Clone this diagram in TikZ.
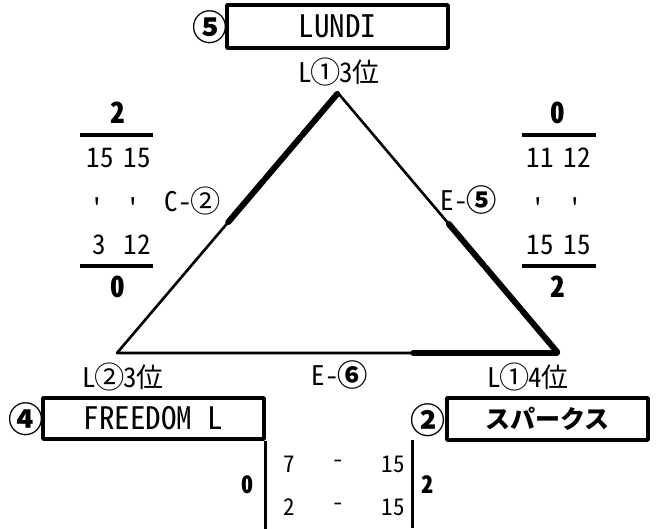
\documentclass[tikz,border=0pt]{standalone}
\usepackage{fontspec}
\newfontfamily\gothic[RawFeature=+hwid, Ligatures=TeXOff]{Noto Sans CJK JP}
\newfontfamily\cjk{Noto Sans CJK JP}
\newcommand\cn[1]{{\cjk\kern-1.5pt\raisebox{-1.2pt}{\scalebox{1.12}{#1}}\kern-1.5pt}}
\usetikzlibrary{calc}

\begin{document}
\begin{tikzpicture}[x=1pt, y=-1pt, line join=round,
    every node/.style={inner sep=0pt, anchor=center},
    txt/.style={font=\gothic\fontsize{27}{32}\selectfont},
    small/.style={font=\gothic\fontsize{23}{28}\selectfont},
    pts/.style={font=\gothic\bfseries\fontsize{29}{34}\selectfont},
    ptsmall/.style={font=\gothic\bfseries\fontsize{24}{29}\selectfont},
    seed/.style={font=\cjk\bfseries\fontsize{35}{40}\selectfont},
    team/.style={draw, line width=3.5pt, font=\gothic\fontsize{31}{36}\selectfont},
    tick/.style={txt, anchor=north},
    thin/.style={line width=2.6pt},
    win/.style={line width=6pt, line cap=round, shorten <=1.2pt, shorten >=1.2pt},
    rule/.style={line width=3.5pt}]

  %% ════ 三个顶点 ════
  \coordinate (top)   at (338, 93);
  \coordinate (left)  at (117,353);
  \coordinate (right) at (558,353);

  %% ════ 三角形（细线）════
  \draw[thin] (top) -- (left) -- (right) -- cycle;

  %% ════ 粗线 = 胜者一侧（各分三段）════
  \foreach \a/\b in {0/0.1667, 0.1667/0.3333, 0.3333/0.5}
    \draw[win] ($(top)!\a!(left)$) -- ($(top)!\b!(left)$);
  \foreach \a/\b in {0.5/0.6667, 0.6667/0.8333, 0.8333/1}
    \draw[win] ($(top)!\a!(right)$) -- ($(top)!\b!(right)$);
  \draw[win] ($(right)!0.331!(left)$) -- (right);

  %% ════ 队名框 ════
  \node[team, minimum width=221pt, minimum height=43pt] (lundi)   at (337.5, 26.5) {LUNDI};
  \node[team, minimum width=221pt, minimum height=41pt] (freedom) at (153.5,418.5) {FREEDOM L};
  \node[team, minimum width=201pt, minimum height=42pt,
        font=\cjk\bfseries\fontsize{25}{30}\selectfont] (sparks) at (547.5,419.0) {スパークス};
  \node[seed] (seed-lundi)   at (210, 27) {⑤};
  \node[seed] (seed-freedom) at ( 26,419) {④};
  \node[seed] (seed-sparks)  at (428,420) {②};

  %% ════ 顶点名次 ════
  \node[txt] (rank-top)   at (339, 72) {L\cn{①}3位};
  \node[txt] (rank-left)  at (123,377) {L\cn{②}3位};
  \node[txt] (rank-right) at (528,377) {L\cn{①}4位};

  %% ════ 边上的场次 ════
  \node[txt] (game-c2) at (192,201) {C-\cn{②}};
  \node[txt] (game-e5) at (468,200) {E-\cn{\bfseries ⑤}};
  \node[txt] (game-e6) at (339,375) {E-\cn{\bfseries ⑥}};

  %% ════ 左边比分：LUNDI 2 - 0 FREEDOM L ════
  \node[pts] (cl-up) at (118,113) {2};
  \draw[rule] (80,135) -- (153,135);
  \node[txt] (cl-a1) at (100,158) {15};
  \node[txt] (cl-b1) at (137,158) {15};
  \node[tick] (cl-ta) at ( 97,197) {\char"27};
  \node[tick] (cl-tb) at (133,197) {\char"27};
  \node[txt] (cl-a2) at ( 99,245) {3};
  \node[txt] (cl-b2) at (137,245) {12};
  \draw[rule] (80,266) -- (153,266);
  \node[pts] (cl-dn) at (118,287) {0};

  %% ════ 右边比分：LUNDI 0 - 2 スパークス ════
  \node[pts] (cr-up) at (558,113) {0};
  \draw[rule] (522,135) -- (596,135);
  \node[txt] (cr-a1) at (540,158) {11};
  \node[txt] (cr-b1) at (577,158) {12};
  \node[tick] (cr-ta) at (538,197) {\char"27};
  \node[tick] (cr-tb) at (575,197) {\char"27};
  \node[txt] (cr-a2) at (540,245) {15};
  \node[txt] (cr-b2) at (577,245) {15};
  \draw[rule] (522,266) -- (596,266);
  \node[pts] (cr-dn) at (558,287) {2};

  %% ════ 底边比分：FREEDOM L 0 - 2 スパークス ════
  \draw[line width=3pt] (freedom.south east) -- ++(0,89);
  \draw[line width=3pt] (412,440) -- (412,528);
  \node[ptsmall] (cb-l) at (247,485) {0};
  \node[ptsmall] (cb-r) at (427,485) {2};
  \node[small] (cb-a1) at (289,464) {7};
  \node[small] (cb-d1) at (338,464) {-};
  \node[small, anchor=east] (cb-b1) at (405,464) {15};
  \node[small] (cb-a2) at (289,507) {2};
  \node[small] (cb-d2) at (338,507) {-};
  \node[small, anchor=east] (cb-b2) at (405,507) {15};

  % 钉死画布
  \pgfresetboundingbox
  \path[use as bounding box] (0,0) rectangle (658,528);
\end{tikzpicture}
\end{document}
